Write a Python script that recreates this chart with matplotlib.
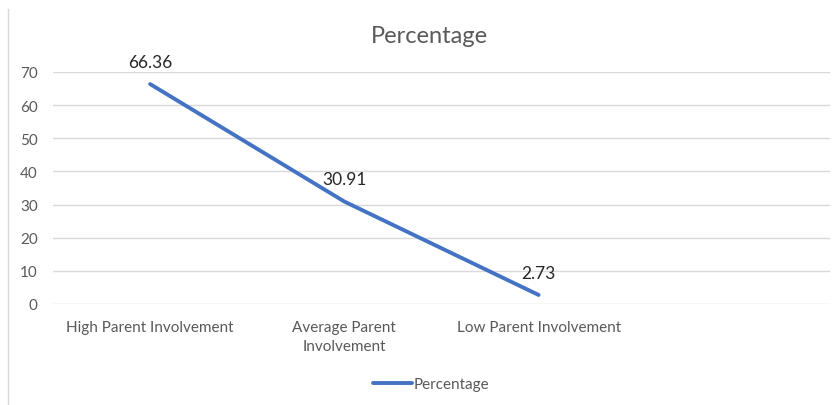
import matplotlib
matplotlib.use("Agg")
import matplotlib.pyplot as plt
from matplotlib.lines import Line2D

categories = ["High Parent Involvement", "Average Parent\nInvolvement", "Low Parent Involvement", ""]
percentage = [66.36, 30.91, 2.73]
y_ticks = [0, 10, 20, 30, 40, 50, 60, 70]

BLUE = "#4472C4"
GREY_TEXT = "#595959"
GRID = "#d9d9d9"

plt.rcParams["font.family"] = ["Lato", "DejaVu Sans"]

fig = plt.figure(figsize=(8.37, 4.06), dpi=100)
ax = fig.add_axes([0.0633, 0.2488, 0.9283, 0.5714])

x = list(range(len(categories)))
ax.plot(x[:len(percentage)], percentage, color=BLUE, linewidth=2.8,
        solid_capstyle="round", label="Percentage")

for xi, val in zip(x, percentage):
    ax.annotate(f"{val:.2f}", (xi, val), xytext=(0, 16), textcoords="offset points",
                ha="center", va="center", fontsize=12.5, color="#262626")

ax.set_xlim(-0.5, len(categories) - 0.5)
ax.set_ylim(0, 70)
ax.set_yticks(y_ticks)
ax.set_xticks(x)
ax.set_xticklabels(categories)
for lbl in ax.get_xticklabels():
    lbl.set_linespacing(1.5)
ax.tick_params(axis="both", length=0, labelsize=11, colors=GREY_TEXT)
ax.tick_params(axis="x", pad=11.5)
ax.tick_params(axis="y", pad=11)
ax.grid(axis="y", color=GRID, linewidth=1)
ax.set_axisbelow(True)
for spine in ax.spines.values():
    spine.set_visible(False)

fig.text(0.5125, 0.909, "Percentage", ha="center", va="center",
         fontsize=17, color=GREY_TEXT)

fig.legend(loc="center", bbox_to_anchor=(0.515, 0.052), frameon=False,
           fontsize=11, handlelength=2.6, handletextpad=0.1,
           labelcolor=GREY_TEXT)

# chart-area border on the left edge
fig.add_artist(Line2D([0.0096, 0.0096], [0.0, 0.975], color=GRID, linewidth=1,
                      transform=fig.transFigure))

fig.savefig("out.png", dpi=100)
